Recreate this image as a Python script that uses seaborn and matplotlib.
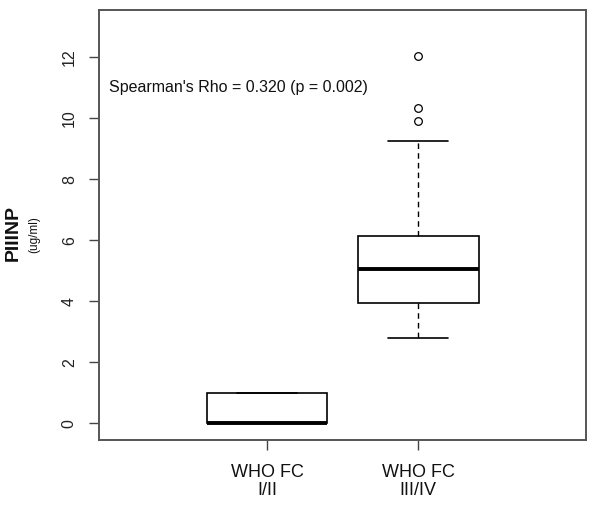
import matplotlib
matplotlib.use("Agg")
import matplotlib.pyplot as plt
import seaborn as sns
import pandas as pd

groups = ["WHO FC\nI/II", "WHO FC\nIII/IV"]
vals_low = [0, 0, 0, 0, 0, 0, 1, 1, 1]
vals_high = [2.80, 3.30, 3.60, 3.80, 3.94, 4.30, 4.60, 4.90, 5.07,
             5.40, 5.70, 5.95, 6.13, 9.25, 9.90, 10.32, 12.05]
yticks = [0, 2, 4, 6, 8, 10, 12]
annot = "Spearman's Rho = 0.320 (p = 0.002)"

df = pd.DataFrame({
    "group": [groups[0]] * len(vals_low) + [groups[1]] * len(vals_high),
    "value": vals_low + vals_high,
})

sns.set_theme(style="white")
plt.rcParams["font.family"] = ["Liberation Sans", "DejaVu Sans"]

fig = plt.figure(figsize=(6.0, 5.11), dpi=100)
ax = fig.add_axes([0.165, 0.139, 0.812, 0.841])

sns.boxplot(
    data=df, x="group", y="value", order=groups, ax=ax, width=0.8,
    color="white", linecolor="black", linewidth=1.2,
    whis=1.5,
    boxprops=dict(facecolor="white", edgecolor="black", linewidth=1.2),
    whiskerprops=dict(color="black", linestyle=(0, (4, 3)), linewidth=1.0),
    capprops=dict(color="black", linewidth=1.2),
    medianprops=dict(color="black", linewidth=2.8),
    flierprops=dict(marker="o", markersize=5.5, markerfacecolor="none",
                    markeredgecolor="black", markeredgewidth=0.9),
)

ax.set_xlim(-1.113, 2.113)
ax.set_ylim(-0.55, 13.54)
ax.set_yticks(yticks)
ax.set_yticklabels([str(t) for t in yticks], rotation=90, va="center", fontsize=11.5)
ax.tick_params(axis="y", length=7, width=1, color="#444444", pad=9, left=True,
               labelcolor="#222222")
ax.tick_params(axis="x", length=7, width=1, color="#444444", pad=10, bottom=True,
               labelsize=13, labelcolor="#111111")
for lab in ax.get_xticklabels():
    lab.set_linespacing(1.1)
ax.set_xlabel("")
ax.set_ylabel("")

for s in ax.spines.values():
    s.set_visible(True)
    s.set_color("#555555")
    s.set_linewidth(1.4)

ax.text(-1.05, 11.02, annot, fontsize=11.5, ha="left", va="center", color="#111111")

fig.text(0.022, 0.545, "PIIINP", rotation=90, fontsize=14, fontweight="bold",
         ha="center", va="center", color="#111111")
fig.text(0.057, 0.541, "(ug/ml)", rotation=90, fontsize=8.5,
         ha="center", va="center", color="#111111")

fig.savefig("out.png", dpi=100)
